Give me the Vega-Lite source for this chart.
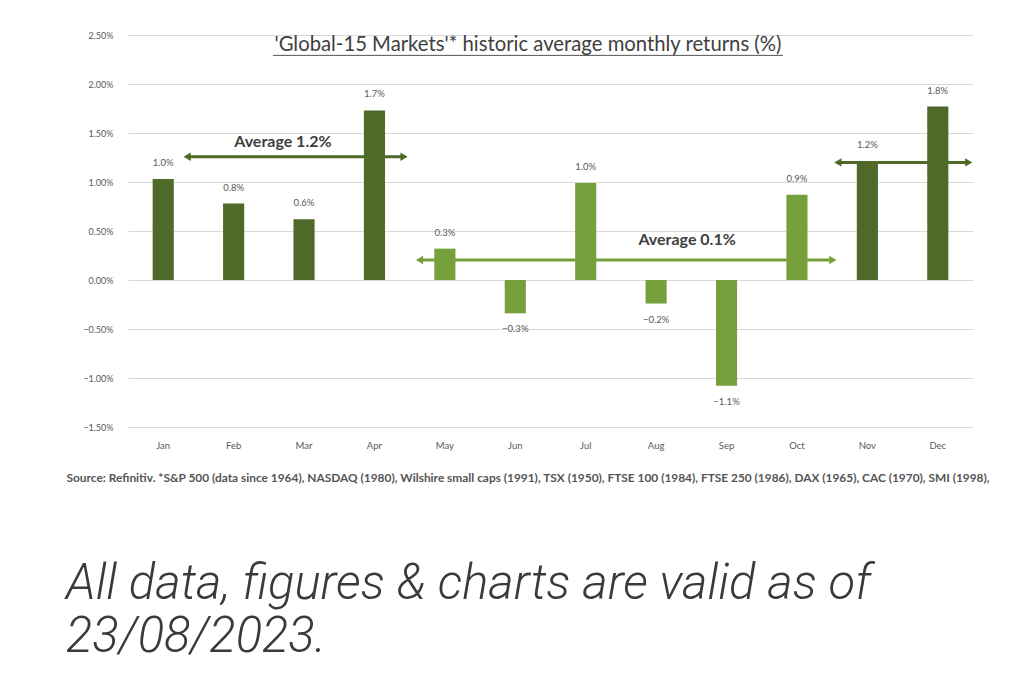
{
  "$schema": "https://vega.github.io/schema/vega-lite/v6.json",
  "width": 845,
  "height": 392,
  "autosize": {"type": "none"},
  "padding": {"left": 128, "top": 35, "right": 51, "bottom": 248},
  "background": "white",
  "config": {
    "view": {"stroke": null},
    "font": "Lato",
    "axisY": {"grid": true, "gridColor": "#d9d9d9", "gridWidth": 1, "domain": false, "ticks": false, "labelFontSize": 9, "labelColor": "#595959", "labelPadding": 15, "format": ".2%", "values": [-0.015, -0.01, -0.005, 0, 0.005, 0.01, 0.015, 0.02, 0.025], "title": null},
    "axisX": {"grid": false, "domain": false, "ticks": false, "labelFontSize": 9.5, "labelColor": "#595959", "labelPadding": 13, "labelAngle": 0}
  },
  "datasets": {
    "months": [
      {"month": "Jan", "value": 0.0103, "season": "Nov–Apr"},
      {"month": "Feb", "value": 0.0078, "season": "Nov–Apr"},
      {"month": "Mar", "value": 0.0062, "season": "Nov–Apr"},
      {"month": "Apr", "value": 0.0173, "season": "Nov–Apr"},
      {"month": "May", "value": 0.0032, "season": "May–Oct"},
      {"month": "Jun", "value": -0.0034, "season": "May–Oct"},
      {"month": "Jul", "value": 0.0099, "season": "May–Oct"},
      {"month": "Aug", "value": -0.0024, "season": "May–Oct"},
      {"month": "Sep", "value": -0.0108, "season": "May–Oct"},
      {"month": "Oct", "value": 0.0087, "season": "May–Oct"},
      {"month": "Nov", "value": 0.0121, "season": "Nov–Apr"},
      {"month": "Dec", "value": 0.0177, "season": "Nov–Apr"}
    ],
    "arrows": [
      {"x1": 0.84, "x2": 3.92, "y": 0.01258, "season": "Nov–Apr"},
      {"x1": 4.14, "x2": 10.01, "y": 0.00204, "season": "May–Oct"},
      {"x1": 10.08, "x2": 11.94, "y": 0.0120, "season": "Nov–Apr"}
    ],
    "heads": [
      {"x": 0.84, "y": 0.01258, "dir": "left", "season": "Nov–Apr"},
      {"x": 3.92, "y": 0.01258, "dir": "right", "season": "Nov–Apr"},
      {"x": 4.14, "y": 0.00204, "dir": "left", "season": "May–Oct"},
      {"x": 10.01, "y": 0.00204, "dir": "right", "season": "May–Oct"},
      {"x": 10.08, "y": 0.0120, "dir": "left", "season": "Nov–Apr"},
      {"x": 11.94, "y": 0.0120, "dir": "right", "season": "Nov–Apr"}
    ],
    "notes": [
      {"x": 2.2, "y": 0.01408, "label": "Average 1.2%"},
      {"x": 7.94, "y": 0.00408, "label": "Average 0.1%"}
    ],
    "heading": [
      {"x": 5.68, "y": 0.02335, "label": "'Global-15 Markets'* historic average monthly returns (%)"}
    ],
    "underline": [
      {"x1": 2.06, "x2": 9.30, "y": 0.02292}
    ]
  },
  "title": {
    "text": ["All data, figures & charts are valid as of", "23/08/2023."],
    "orient": "bottom",
    "anchor": "start",
    "frame": "group",
    "dx": -62,
    "offset": 77,
    "font": "Roboto",
    "fontSize": 49,
    "fontWeight": 300,
    "fontStyle": "italic",
    "color": "#3a3a3a",
    "lineHeight": 53,
    "baseline": "top"
  },
  "layer": [
    {
      "data": {"name": "months"},
      "encoding": {
        "x": {
          "field": "month", "type": "nominal", "sort": null,
          "scale": {"paddingInner": 0.7, "paddingOuter": 0.35},
          "axis": {
            "title": "Source: Refinitiv. *S&P 500 (data since 1964), NASDAQ (1980), Wilshire small caps (1991), TSX (1950), FTSE 100 (1984), FTSE 250 (1986), DAX (1965), CAC (1970), SMI (1998),",
            "titleX": -62, "titleY": 50, "titleAlign": "left", "titleBaseline": "middle", "titleAngle": 0,
            "titleFontSize": 11.9, "titleFontWeight": "bold", "titleColor": "#555555"
          }
        },
        "y": {
          "field": "value", "type": "quantitative", "title": null,
          "scale": {"domain": [-0.015, 0.025], "nice": false, "zero": false}
        }
      },
      "layer": [
        {
          "mark": {"type": "bar"},
          "encoding": {
            "color": {"field": "season", "type": "nominal", "legend": null,
              "scale": {"domain": ["Nov–Apr", "May–Oct"], "range": ["#4f6a28", "#76a03b"]}}
          }
        },
        {
          "transform": [{"filter": "datum.value >= 0"}],
          "mark": {"type": "text", "baseline": "middle", "dy": -16, "fontSize": 9.5, "color": "#595959"},
          "encoding": {"text": {"field": "value", "type": "quantitative", "format": ".1%"}}
        },
        {
          "transform": [{"filter": "datum.value < 0"}],
          "mark": {"type": "text", "baseline": "middle", "dy": 16, "fontSize": 9.5, "color": "#595959"},
          "encoding": {"text": {"field": "value", "type": "quantitative", "format": ".1%"}}
        }
      ]
    },
    {
      "layer": [
        {
          "data": {"name": "arrows"},
          "mark": {"type": "rule", "strokeWidth": 3},
          "encoding": {
            "x": {"field": "x1", "type": "quantitative", "axis": null, "scale": {"domain": [0, 12], "nice": false, "zero": false}},
            "x2": {"field": "x2"},
            "y": {"field": "y", "type": "quantitative", "title": null},
            "color": {"field": "season", "type": "nominal", "legend": null}
          }
        },
        {
          "data": {"name": "heads"},
          "mark": {"type": "point", "filled": true, "size": 70, "opacity": 1},
          "encoding": {
            "x": {"field": "x", "type": "quantitative", "axis": null},
            "y": {"field": "y", "type": "quantitative", "title": null},
            "shape": {"field": "dir", "type": "nominal", "legend": null, "scale": {"domain": ["left", "right"], "range": ["triangle-left", "triangle-right"]}},
            "color": {"field": "season", "type": "nominal", "legend": null}
          }
        },
        {
          "data": {"name": "notes"},
          "mark": {"type": "text", "fontSize": 16, "fontWeight": "bold", "color": "#404040", "baseline": "middle"},
          "encoding": {
            "x": {"field": "x", "type": "quantitative", "axis": null},
            "y": {"field": "y", "type": "quantitative", "title": null},
            "text": {"field": "label"}
          }
        },
        {
          "data": {"name": "heading"},
          "mark": {"type": "text", "fontSize": 20.3, "color": "#404040", "baseline": "alphabetic"},
          "encoding": {
            "x": {"field": "x", "type": "quantitative", "axis": null},
            "y": {"field": "y", "type": "quantitative", "title": null},
            "text": {"field": "label"}
          }
        },
        {
          "data": {"name": "underline"},
          "mark": {"type": "rule", "strokeWidth": 1, "color": "#555555"},
          "encoding": {
            "x": {"field": "x1", "type": "quantitative", "axis": null},
            "x2": {"field": "x2"},
            "y": {"field": "y", "type": "quantitative", "title": null}
          }
        }
      ]
    }
  ],
  "resolve": {"scale": {"x": "independent"}, "axis": {"x": "independent"}}
}
